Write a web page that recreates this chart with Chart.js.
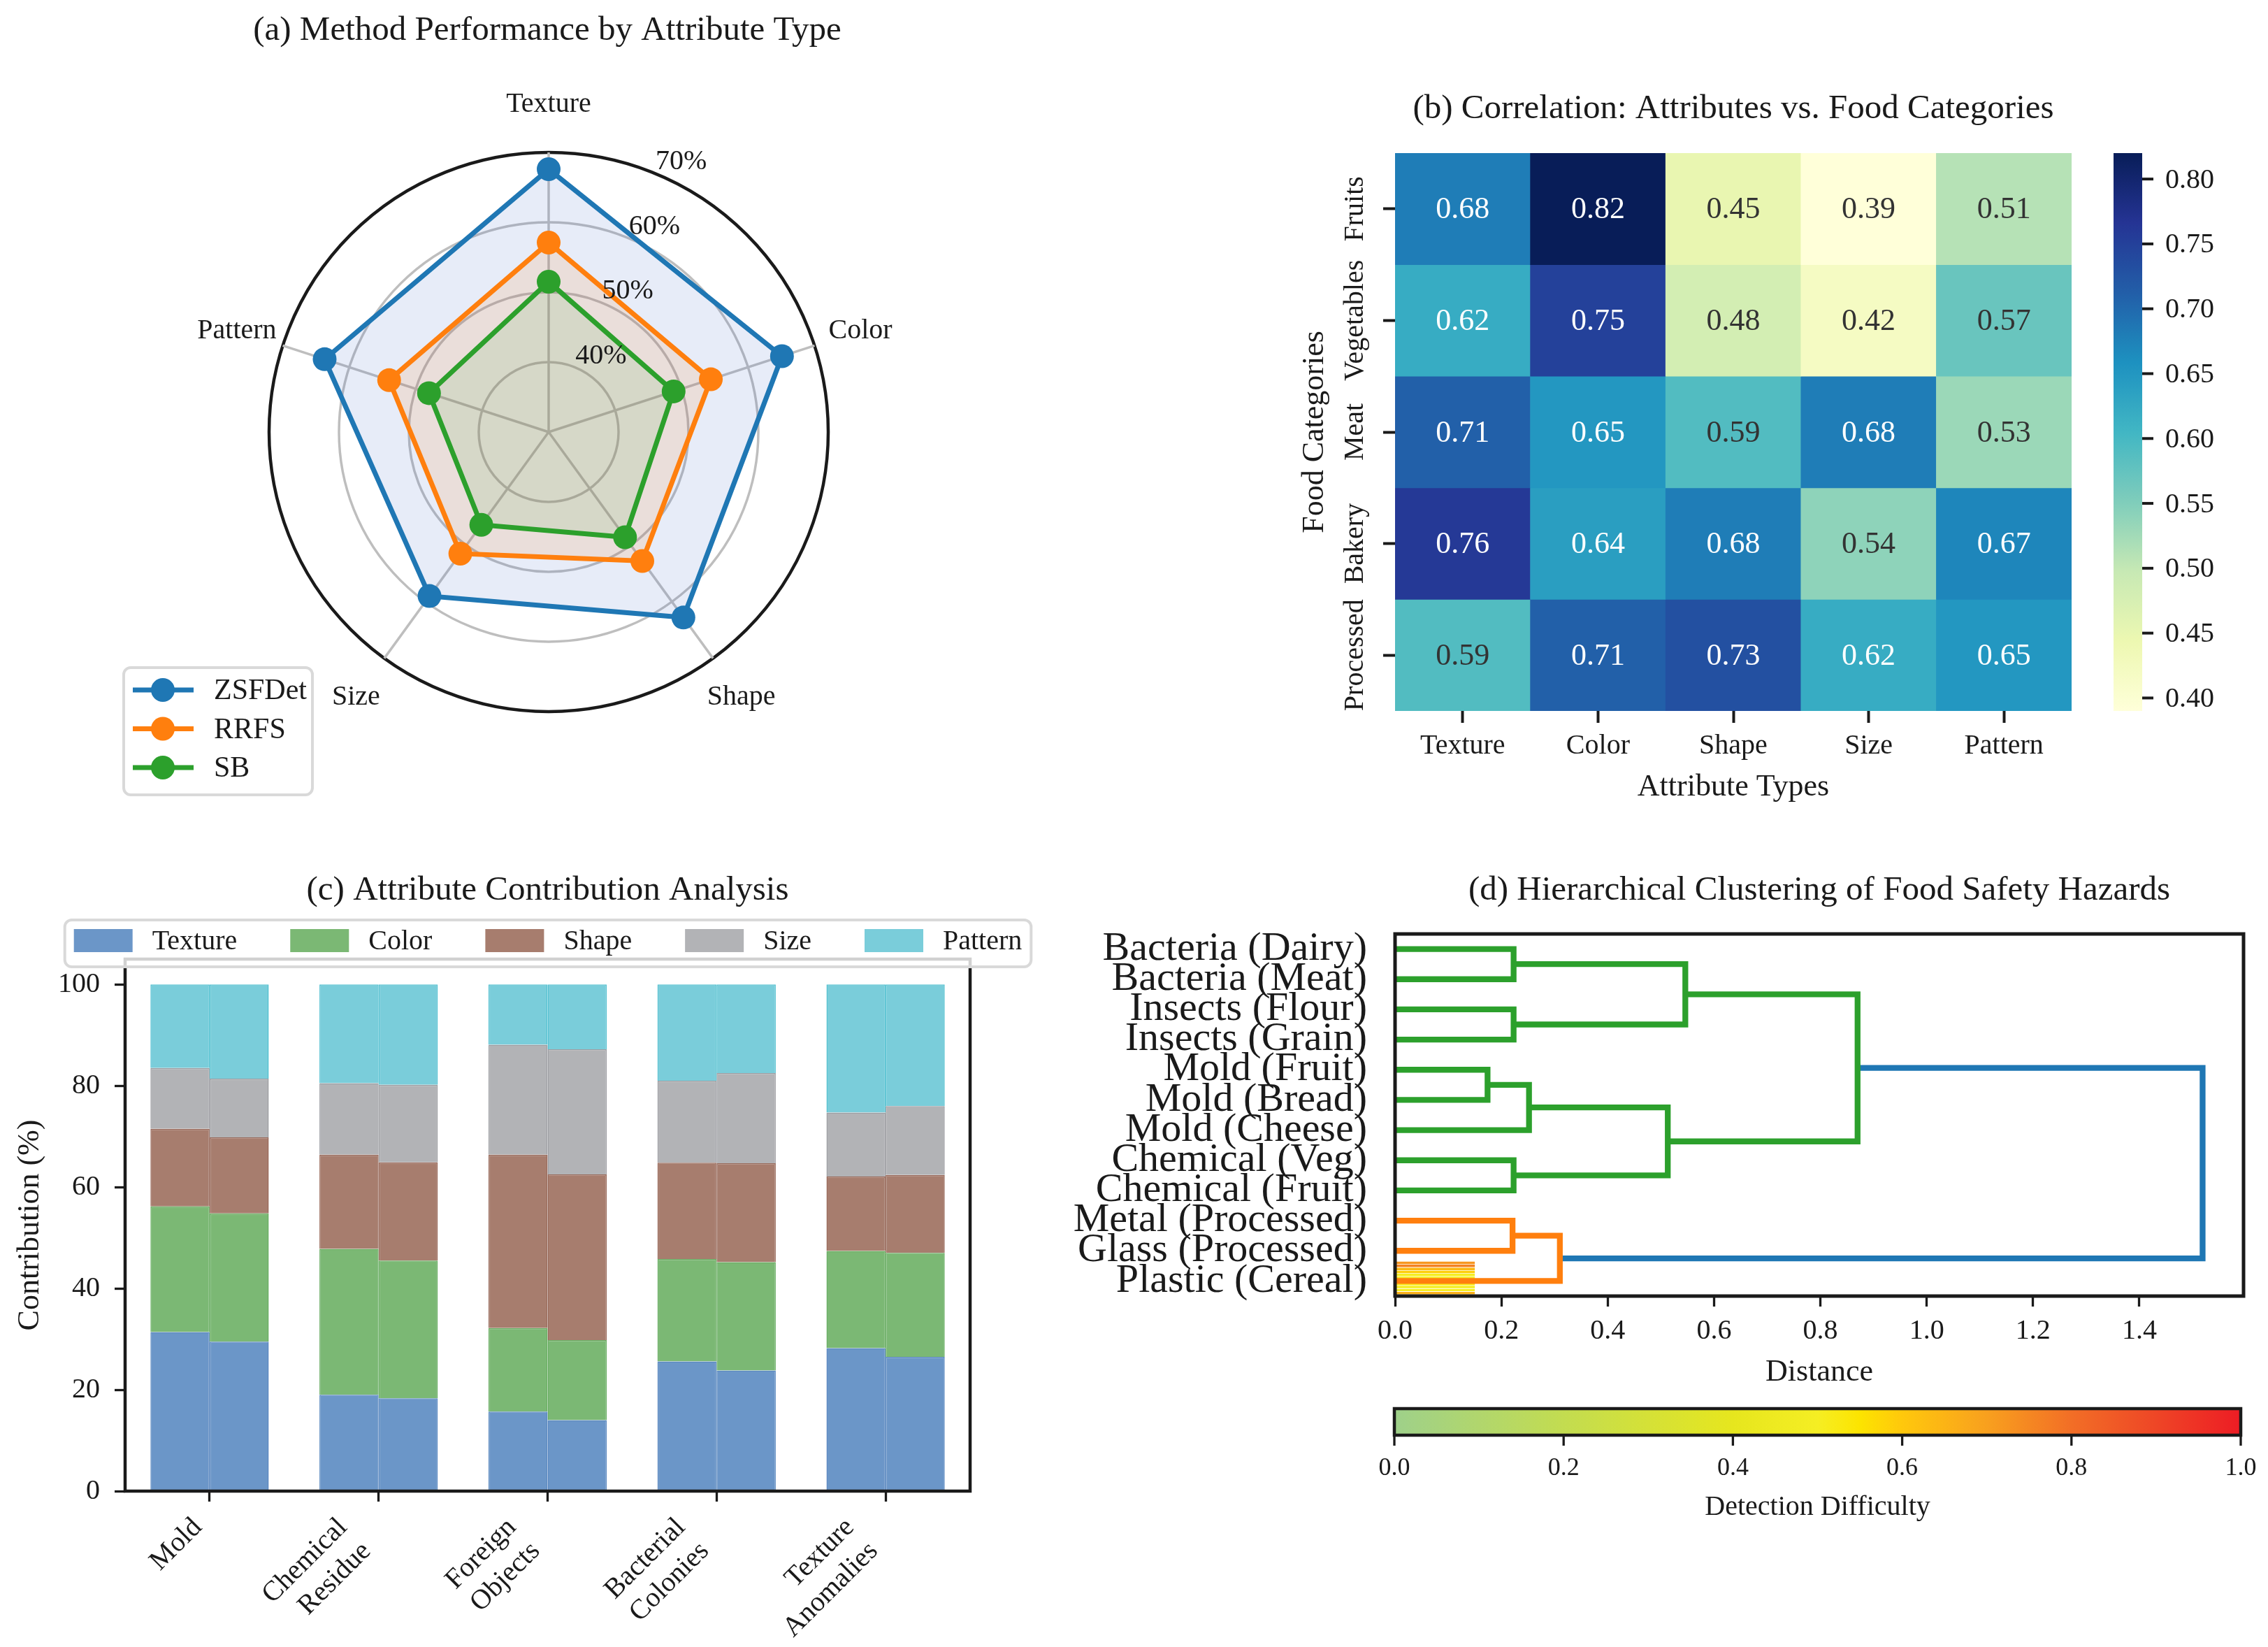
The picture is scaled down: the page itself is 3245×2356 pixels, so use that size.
<!DOCTYPE html>
<html>
<head>
<meta charset="utf-8">
<title>Food safety attribute analysis</title>
<script src="https://cdn.jsdelivr.net/npm/chart.js@4.4.1/dist/chart.umd.min.js"></script>
<style>
  html, body { margin: 0; padding: 0; background: #fff; }
  #page { position: relative; width: 3245px; height: 2356px; overflow: hidden; background: #fff; }
  canvas { position: absolute; }
</style>
</head>
<body>
<div id="page">
  <canvas id="radarChart" width="1570" height="1180" style="left:0;top:0;width:1570px;height:1180px"></canvas>
  <canvas id="heatChart" width="1645" height="1180" style="left:1600px;top:0;width:1645px;height:1180px"></canvas>
  <canvas id="stackChart" width="1568" height="1176" style="left:0;top:1180px;width:1568px;height:1176px"></canvas>
  <canvas id="dendroChart" width="1745" height="1176" style="left:1500px;top:1180px;width:1745px;height:1176px"></canvas>
</div>
<script>
// (a) performance des méthodes par attribut (%)
const attributes = ['Texture', 'Color', 'Shape', 'Size', 'Pattern'];
const methods = ['ZSFDet', 'RRFS', 'SB'];
const zsfdetScores = [67.6, 65.1, 62.8, 59.0, 63.7];
const rrfsScores = [57.1, 54.4, 52.8, 51.5, 54.0];
const sbScores = [51.5, 48.8, 48.6, 46.4, 48.0];
const radarTicks = [30, 40, 50, 60, 70];

// (b) corrélation attributs / catégories
const foodCategories = ['Fruits', 'Vegetables', 'Meat', 'Bakery', 'Processed'];
const corrFruits = [0.68, 0.82, 0.45, 0.39, 0.51];
const corrVegetables = [0.62, 0.75, 0.48, 0.42, 0.57];
const corrMeat = [0.71, 0.65, 0.59, 0.68, 0.53];
const corrBakery = [0.76, 0.64, 0.68, 0.54, 0.67];
const corrProcessed = [0.59, 0.71, 0.73, 0.62, 0.65];
const corrTicks = [0.40, 0.45, 0.50, 0.55, 0.60, 0.65, 0.70, 0.75, 0.80];
const corrMin = 0.39;
const corrMax = 0.82;

// (c) contribution des attributs (%), deux barres par type de danger
const hazardTypes = [['Mold'], ['Chemical', 'Residue'], ['Foreign', 'Objects'], ['Bacterial', 'Colonies'], ['Texture', 'Anomalies']];
const textureShareA = [31.4, 19.0, 15.7, 25.6, 28.2];
const colorShareA = [24.8, 28.8, 16.5, 20.2, 19.2];
const shapeShareA = [15.3, 18.6, 34.2, 19.0, 14.7];
const sizeShareA = [12.0, 14.1, 21.7, 16.2, 12.6];
const patternShareA = [16.5, 19.5, 11.9, 19.0, 25.3];
const textureShareB = [29.5, 18.3, 14.0, 23.8, 26.5];
const colorShareB = [25.3, 27.2, 15.8, 21.4, 20.5];
const shapeShareB = [15.0, 19.4, 32.7, 19.5, 15.4];
const sizeShareB = [11.6, 15.3, 24.7, 17.8, 13.6];
const patternShareB = [18.6, 19.8, 12.8, 17.5, 24.0];
const contribTicks = [0, 20, 40, 60, 80, 100];

// (d) regroupement hiérarchique (feuilles de haut en bas)
const hazardLeaves = ['Bacteria (Dairy)', 'Bacteria (Meat)', 'Insects (Flour)', 'Insects (Grain)',
  'Mold (Fruit)', 'Mold (Bread)', 'Mold (Cheese)', 'Chemical (Veg)', 'Chemical (Fruit)',
  'Metal (Processed)', 'Glass (Processed)', 'Plastic (Cereal)'];
const mergePairs = [[4, 5], [0, 1], [2, 3], [7, 8], [9, 10], [12, 6], [16, 11], [17, 15], [13, 14], [20, 19], [21, 18]];
const mergeHeights = [0.174, 0.223, 0.223, 0.223, 0.221, 0.252, 0.310, 0.513, 0.546, 0.870, 1.519];
const stripeRows = [0, 1, 2, 3, 4, 5, 6, 7, 8, 9, 10, 11];
const stripeLength = 0.15;
const difficultyScores = [0.66, 0.66, 0.50, 0.50, 0.52, 0.52, 0.50, 0.50, 0.59, 0.64, 0.76, 0.72];
const distanceTicks = [0, 0.2, 0.4, 0.6, 0.8, 1.0, 1.2, 1.4];
const distanceMax = 1.596;
const difficultyTicks = [0, 0.2, 0.4, 0.6, 0.8, 1.0];

const FONT = "'Liberation Serif', 'Times New Roman', serif";
const INK = '#1a1a1a';
Chart.defaults.font.family = FONT;
Chart.defaults.font.size = 40;
Chart.defaults.color = INK;
Chart.defaults.animation = false;
Chart.defaults.responsive = false;
Chart.defaults.plugins.legend.display = false;
Chart.defaults.plugins.tooltip.enabled = false;

function font(size) { return size + 'px ' + FONT; }

// Interpolation dans une palette
function rampColor(stops, t) {
  t = Math.min(1, Math.max(0, t));
  for (let i = 1; i < stops.length; i++) {
    if (t <= stops[i][0]) {
      const [t0, c0] = stops[i - 1], [t1, c1] = stops[i];
      const f = (t - t0) / (t1 - t0 || 1);
      return 'rgb(' + c0.map((v, k) => Math.round(v + (c1[k] - v) * f)).join(',') + ')';
    }
  }
  return 'rgb(' + stops[stops.length - 1][1].join(',') + ')';
}
const ylGnBu = [[0, [255, 255, 217]], [0.125, [237, 248, 177]], [0.25, [199, 233, 180]], [0.375, [127, 205, 187]],
  [0.5, [65, 182, 196]], [0.625, [29, 145, 192]], [0.75, [34, 94, 168]], [0.875, [37, 52, 148]], [1, [8, 29, 88]]];
const difficultyRamp = [[0, [158, 208, 138]], [0.2, [195, 220, 80]], [0.4, [230, 230, 30]], [0.5, [245, 238, 35]],
  [0.55, [252, 228, 0]], [0.6, [255, 200, 12]], [0.7, [248, 160, 30]], [0.8, [242, 110, 38]], [0.9, [238, 70, 38]], [1, [237, 28, 36]]];
const corrColor = v => rampColor(ylGnBu, (v - corrMin) / (corrMax - corrMin));
const difficultyColor = v => rampColor(difficultyRamp, v);

function roundedBox(ctx, x, y, w, h, r) {
  ctx.save();
  ctx.beginPath();
  ctx.roundRect(x, y, w, h, r);
  ctx.fillStyle = 'rgba(255,255,255,0.8)';
  ctx.fill();
  ctx.strokeStyle = '#d9d9d9';
  ctx.lineWidth = 4;
  ctx.stroke();
  ctx.restore();
}

function drawTitle(ctx, text, x, y) {
  ctx.save();
  ctx.font = font(49);
  ctx.fillStyle = INK;
  ctx.textAlign = 'center';
  ctx.textBaseline = 'middle';
  ctx.fillText(text, x, y);
  ctx.restore();
}

// ---------- (a) radar ----------
const radarColors = ['#1f77b4', '#ff7f0e', '#2ca02c'];
const radarFills = ['rgba(70,110,200,0.13)', 'rgba(255,127,14,0.13)', 'rgba(44,160,44,0.1)'];
const radarSeries = [zsfdetScores, rrfsScores, sbScores];
const radarTop = radarTicks[radarTicks.length - 1];

const radarDecor = {
  id: 'radarDecor',
  afterDraw(chart) {
    const ctx = chart.ctx, r = chart.scales.r;
    const at = (deg, d) => {
      const a = deg * Math.PI / 180;
      return [r.xCenter + d * Math.sin(a), r.yCenter - d * Math.cos(a)];
    };
    ctx.save();
    ctx.fillStyle = INK;
    ctx.font = font(40);
    ctx.textAlign = 'left';
    ctx.textBaseline = 'alphabetic';
    radarTicks.slice(1).forEach(v => {
      const [x, y] = at(22.5, r.getDistanceFromCenterForValue(v));
      ctx.fillText(v + '%', x, y - 6);
    });
    ctx.textAlign = 'center';
    ctx.textBaseline = 'middle';
    attributes.forEach((name, i) => {
      const [x, y] = at(i * 360 / attributes.length, r.drawingArea + 69);
      ctx.fillText(name, x, y);
    });
    ctx.restore();

    drawTitle(ctx, '(a) Method Performance by Attribute Type', r.xCenter - 2, 44);

    // légende
    roundedBox(ctx, 177, 955, 270, 182, 10);
    ctx.save();
    methods.forEach((name, i) => {
      const y = 987 + i * 55.5;
      ctx.strokeStyle = radarColors[i];
      ctx.lineWidth = 7;
      ctx.beginPath(); ctx.moveTo(190, y); ctx.lineTo(277, y); ctx.stroke();
      ctx.fillStyle = radarColors[i];
      ctx.beginPath(); ctx.arc(233, y, 17, 0, Math.PI * 2); ctx.fill();
      ctx.fillStyle = INK;
      ctx.font = font(42);
      ctx.textAlign = 'left';
      ctx.textBaseline = 'middle';
      ctx.fillText(name, 306, y + 2);
    });
    ctx.restore();
  }
};

new Chart(document.getElementById('radarChart'), {
  type: 'radar',
  data: {
    labels: attributes,
    datasets: radarSeries.map((values, i) => ({
      label: methods[i],
      data: values,
      borderColor: radarColors[i],
      backgroundColor: radarFills[i],
      pointBackgroundColor: radarColors[i],
      pointBorderWidth: 0,
      pointRadius: 17,
      borderWidth: 7,
      fill: true,
      order: radarSeries.length - i
    }))
  },
  options: {
    devicePixelRatio: 1,
    layout: { padding: { left: 385, right: 385, top: 218, bottom: 162 } },
    scales: {
      r: {
        min: radarTicks[0],
        max: radarTop,
        afterBuildTicks: s => { s.ticks = radarTicks.map(v => ({ value: v })); },
        ticks: { display: false },
        pointLabels: { display: false },
        grid: {
          circular: true,
          color: c => (c.tick && c.tick.value === radarTop ? INK : '#bebebe'),
          lineWidth: c => (c.tick && c.tick.value === radarTop ? 4.5 : 3.5)
        },
        angleLines: { color: '#bebebe', lineWidth: 3.5 }
      }
    }
  },
  plugins: [radarDecor]
});

// ---------- (b) carte de chaleur ----------
const corrRows = [corrFruits, corrVegetables, corrMeat, corrBakery, corrProcessed];

const heatDecor = {
  id: 'heatDecor',
  afterDraw(chart) {
    const { ctx, chartArea } = chart;
    const x = chart.scales.x, y = chart.scales.y;
    ctx.save();
    ctx.font = font(44);
    ctx.textAlign = 'center';
    ctx.textBaseline = 'middle';
    corrRows.forEach((row, r) => row.forEach((v, c) => {
      ctx.fillStyle = v >= 0.6 ? '#ffffff' : '#333333';
      ctx.fillText(v.toFixed(2), x.getPixelForValue(c), y.getPixelForValue(r + 0.5) + 2);
    }));
    // étiquettes de lignes verticales
    ctx.fillStyle = INK;
    ctx.font = font(40);
    foodCategories.forEach((name, r) => {
      ctx.save();
      ctx.translate(chartArea.left - 57, y.getPixelForValue(r + 0.5));
      ctx.rotate(-Math.PI / 2);
      ctx.fillText(name, 0, 0);
      ctx.restore();
    });
    // barre de couleur
    const cbL = 1424, cbR = 1465, cbT = chartArea.top, cbB = chartArea.bottom;
    const grad = ctx.createLinearGradient(0, cbB, 0, cbT);
    for (let i = 0; i <= 40; i++) grad.addColorStop(i / 40, rampColor(ylGnBu, i / 40));
    ctx.fillStyle = grad;
    ctx.fillRect(cbL, cbT, cbR - cbL, cbB - cbT);
    ctx.strokeStyle = INK;
    ctx.lineWidth = 4;
    ctx.fillStyle = INK;
    ctx.textAlign = 'left';
    corrTicks.forEach(v => {
      const py = cbB - (v - corrMin) / (corrMax - corrMin) * (cbB - cbT);
      ctx.beginPath(); ctx.moveTo(cbR, py); ctx.lineTo(cbR + 16, py); ctx.stroke();
      ctx.fillText(v.toFixed(2), cbR + 33, py + 2);
    });
    ctx.restore();
    drawTitle(ctx, '(b) Correlation: Attributes vs. Food Categories', (chartArea.left + chartArea.right) / 2, 156);
  }
};

new Chart(document.getElementById('heatChart'), {
  type: 'bar',
  data: {
    labels: attributes,
    datasets: corrRows.map((row, r) => ({
      label: foodCategories[r],
      data: row.map(() => [r, r + 1]),
      backgroundColor: row.map(corrColor),
      grouped: false,
      barPercentage: 1,
      categoryPercentage: 1,
      borderWidth: 0
    }))
  },
  options: {
    devicePixelRatio: 1,
    layout: { padding: { left: 246, right: 281, top: 219, bottom: 13 } },
    scales: {
      x: {
        grid: { drawOnChartArea: false, offset: false, tickLength: 17, tickWidth: 4, tickColor: INK },
        border: { display: false },
        ticks: { padding: 9, font: { size: 40 } },
        title: { display: true, text: 'Attribute Types', font: { size: 44 }, padding: { top: 0, bottom: 14.6 } },
        afterFit: s => { s.height = 150; }
      },
      y: {
        min: 0,
        max: foodCategories.length,
        reverse: true,
        afterBuildTicks: s => { s.ticks = foodCategories.map((_, i) => ({ value: i + 0.5 })); },
        ticks: { display: false },
        grid: { drawOnChartArea: false, tickLength: 17, tickWidth: 4, tickColor: INK },
        border: { display: false },
        title: { display: true, text: 'Food Categories', font: { size: 44 }, padding: { top: 8.6, bottom: 0 } },
        afterFit: s => { s.width = 150; }
      }
    }
  },
  plugins: [heatDecor]
});

// ---------- (c) barres empilées ----------
const attrColors = ['#6b96c8', '#7bb874', '#a77d6e', '#b2b3b6', '#7acdda'];
const attrEdges = ['#5a88c0', '#68ad62', '#98695a', '#9c9da2', '#52c0d0'];
const sharesA = [textureShareA, colorShareA, shapeShareA, sizeShareA, patternShareA];
const sharesB = [textureShareB, colorShareB, shapeShareB, sizeShareB, patternShareB];

const stackDecor = {
  id: 'stackDecor',
  afterDraw(chart) {
    const { ctx, chartArea } = chart;
    const x = chart.scales.x;
    ctx.save();
    ctx.strokeStyle = INK;
    ctx.lineWidth = 4.5;
    ctx.strokeRect(chartArea.left, chartArea.top, chartArea.right - chartArea.left, chartArea.bottom - chartArea.top);

    // étiquettes inclinées : bloc aligné à droite sur la graduation
    ctx.font = font(40);
    ctx.fillStyle = INK;
    ctx.textAlign = 'right';
    ctx.textBaseline = 'middle';
    const lh = 48, k = Math.SQRT1_2, yTop = chartArea.bottom + 15 + 14;
    hazardTypes.forEach((lines, i) => {
      const W = Math.max(...lines.map(t => ctx.measureText(t).width));
      const H = lines.length * lh;
      ctx.save();
      ctx.translate(x.getPixelForValue(i) - k * (W + H), yTop + k * W);
      ctx.rotate(-Math.PI / 4);
      lines.forEach((t, j) => ctx.fillText(t, W, j * lh + lh / 2));
      ctx.restore();
    });
    ctx.restore();

    drawTitle(ctx, '(c) Attribute Contribution Analysis', (chartArea.left + chartArea.right) / 2, 94);

    // légende en ligne
    ctx.save();
    ctx.font = font(40);
    const widths = attributes.map(t => ctx.measureText(t).width);
    const patchW = 84, gap = 28, colGap = 76;
    const total = widths.reduce((s, w) => s + patchW + gap + w, 0) + colGap * (attributes.length - 1);
    let lx = 784 - total / 2;
    roundedBox(ctx, lx - 13, 136, total + 26, 67, 10);
    ctx.textAlign = 'left';
    ctx.textBaseline = 'middle';
    attributes.forEach((name, i) => {
      ctx.fillStyle = attrColors[i];
      ctx.fillRect(lx, 149, patchW, 33);
      ctx.fillStyle = INK;
      ctx.fillText(name, lx + patchW + gap, 167);
      lx += patchW + gap + widths[i] + colGap;
    });
    ctx.restore();
  }
};

const stackSets = [];
[['a', sharesA], ['b', sharesB]].forEach(([stack, shares]) => {
  shares.forEach((values, k) => {
    stackSets.push({
      label: attributes[k],
      data: values,
      stack: stack,
      backgroundColor: attrColors[k],
      borderColor: attrEdges[k],
      borderWidth: 1.5,
      barPercentage: 1,
      categoryPercentage: 0.7
    });
  });
});

new Chart(document.getElementById('stackChart'), {
  type: 'bar',
  data: { labels: hazardTypes.map(l => l.join(' ')), datasets: stackSets },
  options: {
    devicePixelRatio: 1,
    layout: { padding: { left: 0, right: 180, top: 192, bottom: 0 } },
    scales: {
      x: {
        stacked: true,
        grid: { drawOnChartArea: false, offset: false, tickLength: 15, tickWidth: 3.3, tickColor: INK },
        border: { display: false },
        ticks: { display: false },
        afterFit: s => { s.height = 223; }
      },
      y: {
        stacked: true,
        min: 0,
        max: 105,
        afterBuildTicks: s => { s.ticks = contribTicks.map(v => ({ value: v })); },
        ticks: { padding: 21, font: { size: 40 } },
        grid: { drawOnChartArea: false, tickLength: 15, tickWidth: 3.3, tickColor: INK },
        border: { display: false },
        title: { display: true, text: 'Contribution (%)', font: { size: 44 }, padding: { top: 16.6, bottom: 0 } },
        afterFit: s => { s.width = 179; }
      }
    }
  },
  plugins: [stackDecor]
});

// ---------- (d) dendrogramme ----------
const nLeaves = hazardLeaves.length;
const nodePos = hazardLeaves.map((_, k) => 115 - 10 * k);
const nodeHeight = hazardLeaves.map(() => 0);
const parentOf = {};
mergePairs.forEach(([a, b], m) => {
  const id = nLeaves + m;
  nodePos[id] = (nodePos[a] + nodePos[b]) / 2;
  nodeHeight[id] = mergeHeights[m];
  parentOf[a] = id;
  parentOf[b] = id;
});
const colorThreshold = 0.7 * Math.max(...mergeHeights);
function clusterRoot(id) {
  let r = id;
  while (parentOf[r] !== undefined && nodeHeight[parentOf[r]] < colorThreshold) r = parentOf[r];
  return r;
}
const clusterRoots = [...new Set(mergePairs.map((_, m) => nLeaves + m)
  .filter(id => nodeHeight[id] < colorThreshold).map(clusterRoot))]
  .sort((p, q) => nodePos[p] - nodePos[q]);
const clusterPalette = ['#ff7f0e', '#2ca02c', '#d62728', '#9467bd'];
function linkColor(id) {
  if (nodeHeight[id] >= colorThreshold) return '#1f77b4';
  return clusterPalette[clusterRoots.indexOf(clusterRoot(id)) % clusterPalette.length];
}
const linkSets = mergePairs.map(([a, b], m) => {
  const h = mergeHeights[m];
  return {
    type: 'scatter',
    showLine: true,
    data: [{ x: nodeHeight[a], y: nodePos[a] }, { x: h, y: nodePos[a] }, { x: h, y: nodePos[b] }, { x: nodeHeight[b], y: nodePos[b] }],
    borderColor: linkColor(nLeaves + m),
    borderWidth: 8.3,
    pointRadius: 0,
    order: 0
  };
});
const stripeSet = {
  type: 'bar',
  indexAxis: 'y',
  data: stripeRows.map(row => ({ x: stripeLength, y: row })),
  backgroundColor: difficultyScores.map(difficultyColor),
  barPercentage: 0.8,
  categoryPercentage: 1,
  borderWidth: 0,
  order: 1
};

const dendroDecor = {
  id: 'dendroDecor',
  afterDraw(chart) {
    const { ctx, chartArea } = chart;
    ctx.save();
    ctx.strokeStyle = INK;
    ctx.lineWidth = 5;
    ctx.strokeRect(chartArea.left, chartArea.top, chartArea.right - chartArea.left, chartArea.bottom - chartArea.top);
    // barre de couleur horizontale
    const cbL = 495, cbR = 1706, cbT = 835, cbB = 873;
    const grad = ctx.createLinearGradient(cbL, 0, cbR, 0);
    for (let i = 0; i <= 40; i++) grad.addColorStop(i / 40, difficultyColor(i / 40));
    ctx.fillStyle = grad;
    ctx.fillRect(cbL, cbT, cbR - cbL, cbB - cbT);
    ctx.lineWidth = 4.5;
    ctx.strokeRect(cbL, cbT, cbR - cbL, cbB - cbT);
    ctx.lineWidth = 3.3;
    ctx.fillStyle = INK;
    ctx.font = font(36);
    ctx.textAlign = 'center';
    ctx.textBaseline = 'middle';
    difficultyTicks.forEach(v => {
      const px = cbL + v * (cbR - cbL);
      ctx.beginPath(); ctx.moveTo(px, cbB); ctx.lineTo(px, cbB + 15); ctx.stroke();
      ctx.fillText(v.toFixed(1), px, 921);
    });
    ctx.font = font(40);
    ctx.fillText('Detection Difficulty', (cbL + cbR) / 2, 976);
    ctx.restore();
    drawTitle(ctx, '(d) Hierarchical Clustering of Food Safety Hazards', (chartArea.left + chartArea.right) / 2, 94);
  }
};

new Chart(document.getElementById('dendroChart'), {
  type: 'scatter',
  data: { datasets: [stripeSet, ...linkSets] },
  options: {
    devicePixelRatio: 1,
    layout: { padding: { left: 0, right: 35, top: 156, bottom: 352 } },
    scales: {
      x: {
        type: 'linear',
        min: 0,
        max: distanceMax,
        offset: false,
        afterBuildTicks: s => { s.ticks = distanceTicks.map(v => ({ value: v })); },
        ticks: { padding: 11, font: { size: 40 }, callback: v => Number(v).toFixed(1) },
        grid: { drawOnChartArea: false, offset: false, tickLength: 15, tickWidth: 3.3, tickColor: INK },
        border: { display: false },
        title: { display: true, text: 'Distance', font: { size: 44 }, padding: { top: 0, bottom: 14.6 } },
        afterFit: s => { s.height = 150; }
      },
      y: {
        type: 'linear',
        min: 0,
        max: 120,
        offset: false,
        afterBuildTicks: s => { s.ticks = hazardLeaves.map((_, k) => ({ value: 115 - 10 * k })); },
        ticks: {
          autoSkip: false,
          padding: 40,
          font: { size: 58 },
          callback: v => hazardLeaves[Math.round((115 - v) / 10)]
        },
        grid: { drawOnChartArea: false, drawTicks: false, offset: false },
        border: { display: false },
        afterFit: s => { s.width = 496; }
      }
    }
  },
  plugins: [dendroDecor]
});
</script>
</body>
</html>
